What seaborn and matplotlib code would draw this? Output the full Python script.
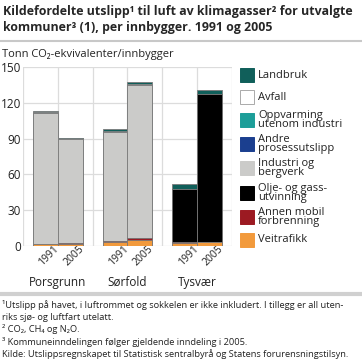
import numpy as np
import pandas as pd
import seaborn as sns
import matplotlib.pyplot as plt
import matplotlib.transforms as mtrans
from matplotlib.patches import Rectangle
from matplotlib.lines import Line2D

# Data (tonn CO2-ekvivalenter per innbygger)
kommuner = ["Porsgrunn", "Sørfold", "Tysvær"]
years = ["1991", "2005"]

# bottom -> top stacking order, values per (kommune, year)
sources = ["Veitrafikk", "Annen mobil\nforbrenning", "Olje- og gass-\nutvinning",
           "Industri og\nbergverk", "Andre\nprosessutslipp", "Oppvarming\nutenom industri",
           "Avfall", "Landbruk"]
colors = ["#f29a3c", "#9c1a22", "#000000", "#cbcbc9", "#1b3f8f", "#1d9e99", "#ffffff", "#105f5a"]

veitrafikk = [1.5, 2.0, 3.5, 5.0, 2.8, 3.3]
annen_mobil = [0.5, 0.4, 0.4, 1.5, 0.3, 0.4]
olje_gass = [0.0, 0.0, 0.0, 0.0, 44.5, 123.5]
industri = [109.5, 87.6, 92.0, 128.5, 0.2, 0.1]
andre_prosess = [0.0, 0.0, 0.0, 0.0, 0.0, 0.0]
oppvarming = [0.3, 0.2, 0.2, 0.3, 0.2, 0.2]
avfall = [0.2, 0.1, 0.1, 0.5, 0.1, 0.1]
landbruk = [0.8, 0.4, 1.6, 1.7, 4.2, 3.0]

values = [veitrafikk, annen_mobil, olje_gass, industri, andre_prosess, oppvarming, avfall, landbruk]

df = pd.DataFrame({
    "kommune": [k for k in kommuner for _ in years],
    "year": years * len(kommuner),
})
cum = np.cumsum(np.array(values), axis=0)

sns.set_style("white")
plt.rcParams["font.family"] = ["Open Sans", "DejaVu Sans"]

fig = plt.figure(figsize=(3.62, 3.64), dpi=100)
ax = fig.add_axes([23 / 362, 1 - 246 / 364, 209 / 362, 179 / 364])

# stacked bars: draw cumulative totals from the top layer down
for i in range(len(sources) - 1, -1, -1):
    d = df.copy()
    d["value"] = cum[i]
    sns.barplot(data=d, x="kommune", y="value", hue="year", order=kommuner,
                hue_order=years, palette=[colors[i], colors[i]], width=0.714,
                edgecolor="#7a7a7a", linewidth=0.6, saturation=1, legend=False,
                ax=ax, zorder=3)

ax.set_xlim(-0.5, 2.5)
ax.set_ylim(0, 150)
ax.set_yticks(np.arange(0, 151, 30))
ax.tick_params(axis="y", labelsize=8.5, colors="#222222", length=0, pad=1.5)

# year labels under each bar
pos = [g + s * 0.1785 for g in range(3) for s in (-1, 1)]
ax.set_xticks(pos)
ax.set_xticklabels(years * 3, rotation=45, ha="right", rotation_mode="anchor",
                   fontsize=7.5, color="#222222")
ax.tick_params(axis="x", length=0, pad=0)
ax.set_xticks(np.arange(-0.5, 2.51, 0.5), minor=True)
ax.tick_params(axis="x", which="minor", length=0)
ax.set_xlabel("")
ax.set_ylabel("")
ax.grid(False)
ax.grid(True, axis="x", which="minor", color="#dcdcdc", linewidth=0.9, zorder=0)
ax.grid(True, axis="y", which="major", color="#dcdcdc", linewidth=0.9, zorder=0)
ax.set_axisbelow(True)
for s in ax.spines.values():
    s.set_visible(False)

# shift rotated year labels so they sit under the bars
offset = mtrans.ScaledTranslation(8 / 100, 2 / 100, fig.dpi_scale_trans)
for lab in ax.get_xticklabels():
    lab.set_transform(lab.get_transform() + offset)

for g, k in enumerate(kommuner):
    ax.text(g, -0.205, k, transform=ax.get_xaxis_transform(), ha="center",
            va="center", fontsize=8.5, color="#222222")

# title
fig.text(3 / 362, 1 - 12 / 364, "Kildefordelte utslipp¹ til luft av klimagasser² for utvalgte",
         fontsize=8.9, fontweight="bold", va="center", ha="left")
fig.text(3 / 362, 1 - 28 / 364, "kommuner³ (1), per innbygger. 1991 og 2005",
         fontsize=8.9, fontweight="bold", va="center", ha="left")
fig.add_artist(Line2D([0, 1], [1 - 41 / 364] * 2, color="#c8c8c8", linewidth=1.5))
fig.text(2 / 362, 1 - 54 / 364, "Tonn CO₂-ekvivalenter/innbygger", fontsize=8,
         va="center", ha="left", color="#222222")

# legend (drawn top -> bottom)
leg_y = [75, 97, 120, 144, 168, 193, 217, 240]
for j, (lab, c) in enumerate(zip(sources[::-1], colors[::-1])):
    y = leg_y[j]
    fig.patches.append(Rectangle((240 / 362, 1 - (y + 7) / 364), 14 / 362, 14 / 364,
                                 facecolor=c, edgecolor="#aaaaaa" if c == "#ffffff" else c,
                                 linewidth=0.7, transform=fig.transFigure, figure=fig))
    fig.text(258 / 362, 1 - y / 364, lab, fontsize=8, va="center", ha="left",
             linespacing=0.85, color="#222222")

# footer
fig.add_artist(Line2D([0, 1], [1 - 294 / 364] * 2, color="#d0d0d0", linewidth=3))
notes = ["¹Utslipp på havet, i luftrommet og sokkelen er ikke inkludert. I tillegg er all uten-",
         "riks sjø- og luftfart utelatt.",
         "² CO₂, CH₄ og N₂O.",
         "³ Kommuneinndelingen følger gjeldende inndeling i 2005.",
         "Kilde: Utslippsregnskapet til Statistisk sentralbyrå og Statens forurensningstilsyn."]
for i, n in enumerate(notes):
    fig.text(2 / 362, 1 - (305 + i * 12.2) / 364, n, fontsize=6.7, va="center",
             ha="left", color="#222222")

fig.savefig("out.png", dpi=100)
